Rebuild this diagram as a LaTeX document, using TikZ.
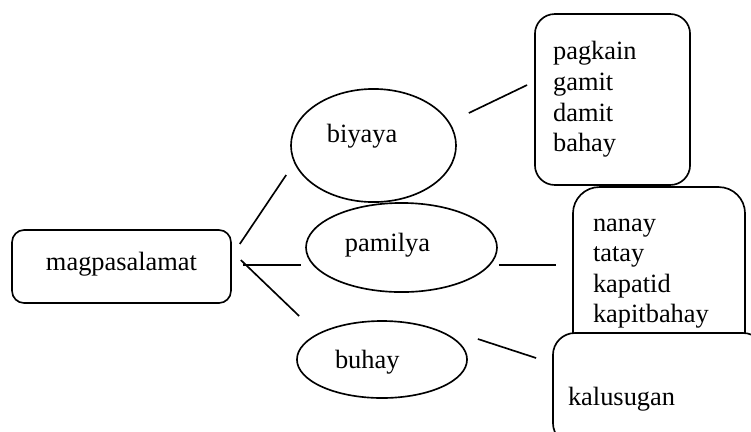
\documentclass[tikz,border=0pt]{standalone}
\usepackage{fontspec}
\setmainfont{Liberation Serif}
\usepackage{tikz}
\usetikzlibrary{shapes.geometric, calc}

\begin{document}
\begin{tikzpicture}[x=0.4545pt, y=-0.4545pt, line width=0.75pt,
  every node/.style={font=\fontsize{12}{13.9}\selectfont, inner sep=0pt},
  oval/.style={draw, ellipse, fill=white, align=left},
  card/.style={draw, rectangle, fill=white, align=left}]

\useasboundingbox (0,0) rectangle (751,431);
\clip (0,0) rectangle (751,431);

\node (magp)[card, rounded corners=5.5pt, minimum width=99.5pt, minimum height=33.2pt, text depth=4.4pt] at (121.5,266.5) {magpasalamat};

\node (biyaya)[oval, minimum width=75pt, minimum height=51.4pt, text width=42.3pt, text depth=11.4pt] at (373.5,145.5) {biyaya};
\node (pamilya)[oval, minimum width=86.8pt, minimum height=40.5pt, text width=51.4pt, text depth=4.4pt] at (401.5,247.5) {pamilya};
\node (buhay)[oval, minimum width=77.3pt, minimum height=35pt, text width=42.7pt, text depth=0.2pt] at (382,359.5) {buhay};

\node (biyayalist)[card, rounded corners=9pt, minimum width=70.5pt, minimum height=77.7pt, text width=54pt] at (612.5,99.5) {pagkain\\ gamit\\ damit\\ bahay};
\node (pamilyalist)[card, rounded corners=12pt, minimum width=78.2pt, minimum height=78.6pt, text width=60pt] at (659,273.5) {nanay\\ tatay\\ kapatid\\ kapitbahay};
\node (buhaylist)[card, rounded corners=10pt, minimum width=96.4pt, minimum height=50.9pt, text width=82.7pt, text height=17pt, text depth=2.4pt] at (659,389) {kalusugan};

\draw ($(magp.east)+(8,-22.5)$) -- ($(biyaya.west)+(-4,29.5)$);
\draw ($(magp.east)+(11,-1.5)$) -- ($(pamilya.west)+(-4,17.5)$);
\draw ($(magp.east)+(9,-6.5)$) -- ($(buhay.west)+(3,-43.5)$);

\draw ($(biyaya.east)+(12,-32.5)$) -- ($(biyayalist.west)+(-7,-14.5)$);
\draw ($(pamilya.east)+(1,17.5)$) -- ($(pamilyalist.west)+(-16,-8.5)$);
\draw ($(buhay.east)+(10,-20.5)$) -- ($(buhaylist.west)+(-16,-31)$);
\end{tikzpicture}
\end{document}
